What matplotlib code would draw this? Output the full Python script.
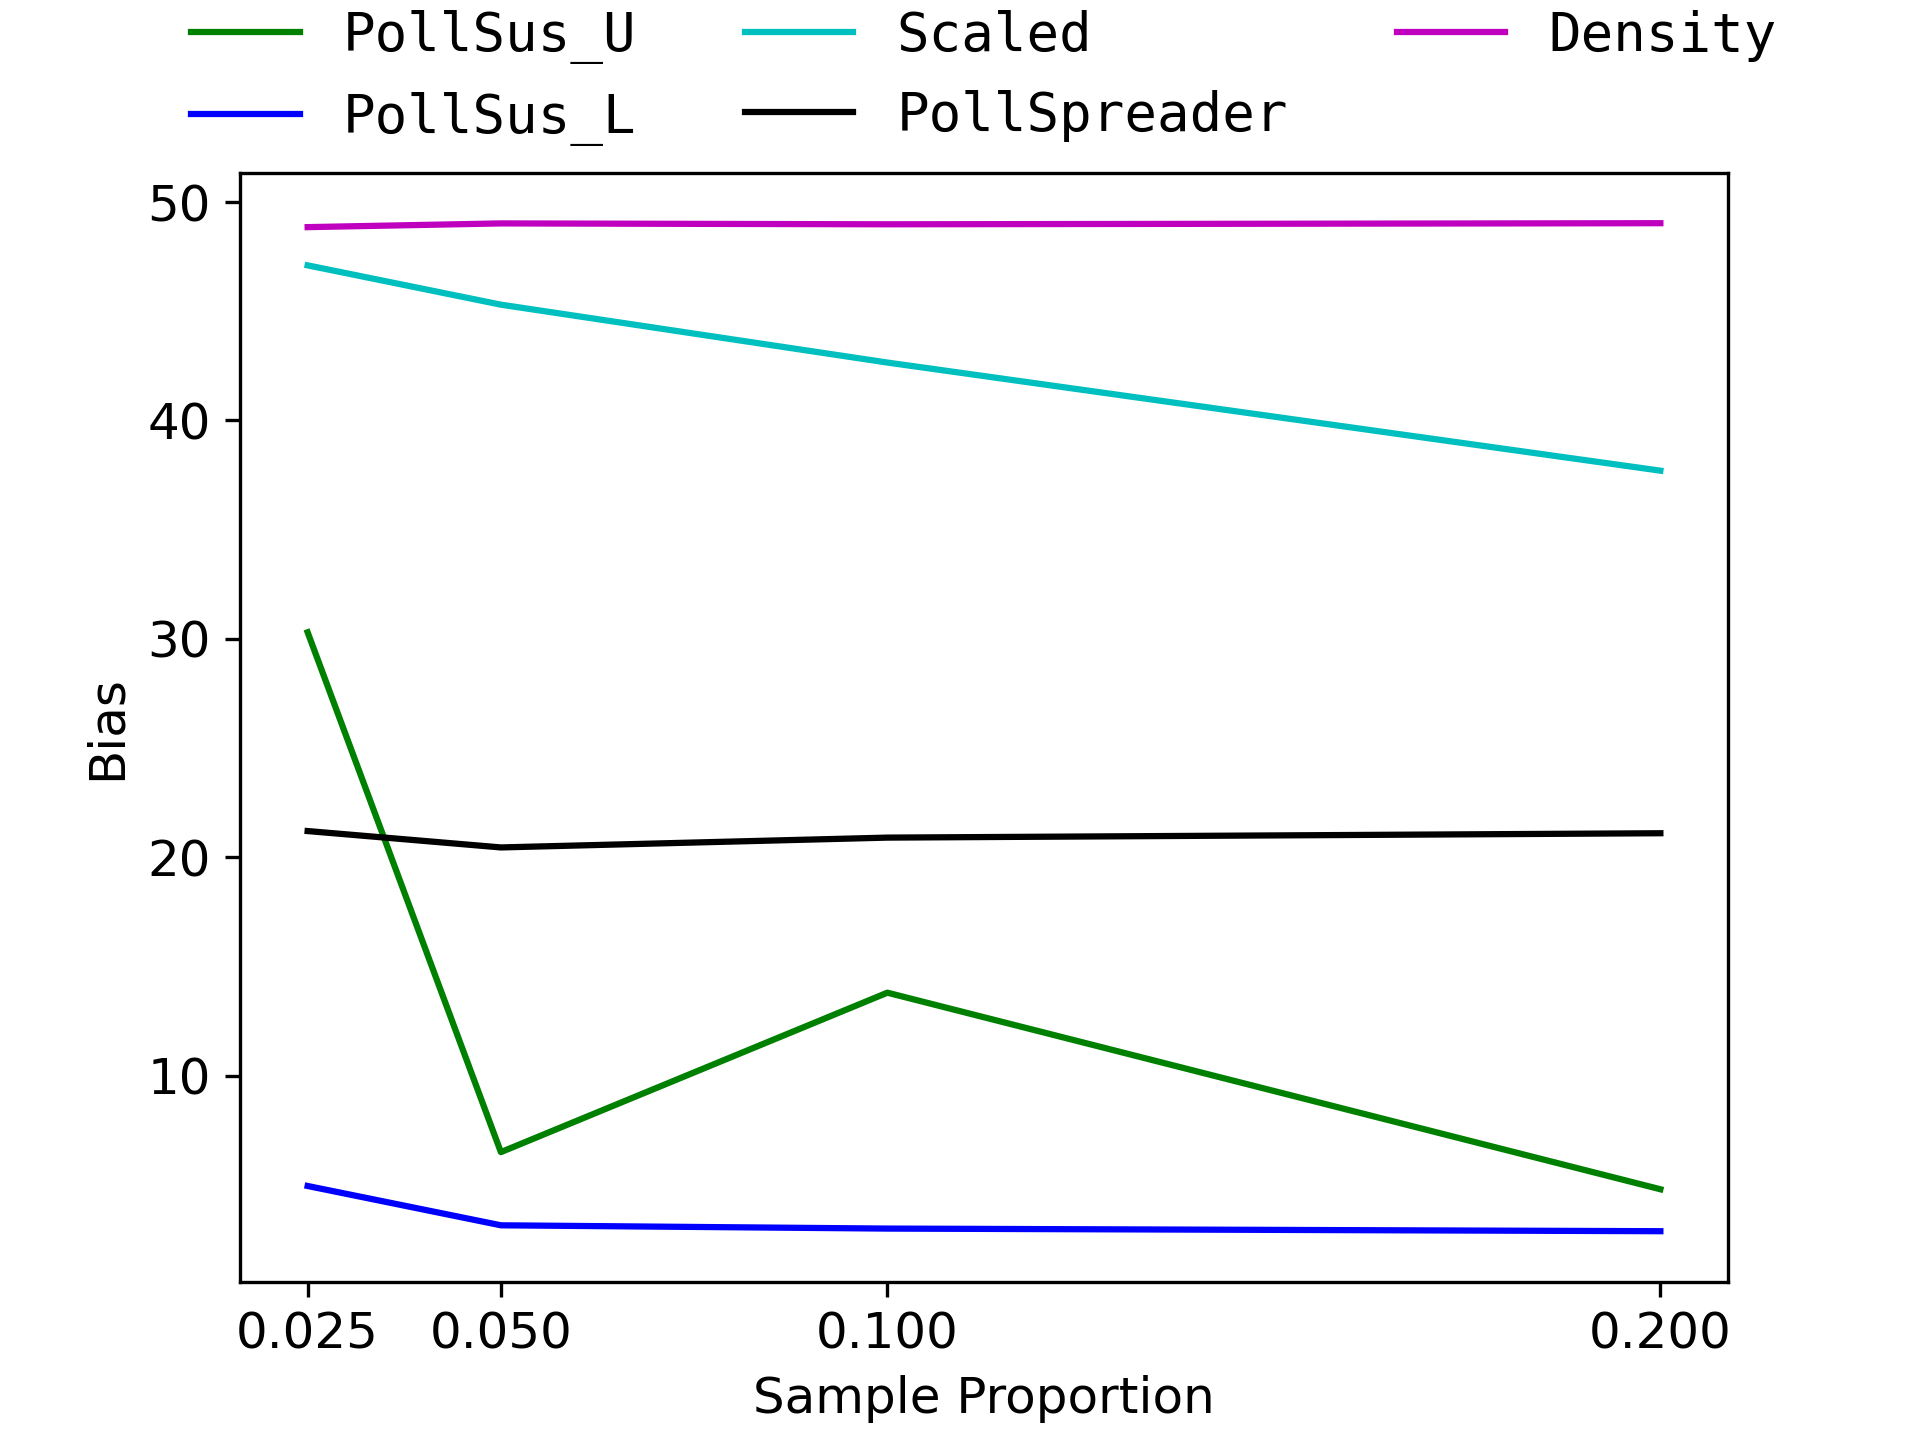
import matplotlib
matplotlib.use("Agg")
import matplotlib.pyplot as plt

# sample proportions on the x axis
proportions = [0.025, 0.05, 0.1, 0.2]

# bias per method
pollsus_u = [30.3, 6.5, 13.8, 4.8]
pollsus_l = [4.95, 3.15, 3.0, 2.88]
scaled = [47.1, 45.3, 42.65, 37.7]
pollspreader = [21.2, 20.45, 20.9, 21.1]
density = [48.85, 49.02, 48.98, 49.03]

plt.rcParams['font.size'] = 12

fig, ax = plt.subplots(figsize=(6.4, 4.8), dpi=300)

ax.plot(proportions, pollsus_u, 'g', label='PollSus_U')
ax.plot(proportions, pollsus_l, 'b', label='PollSus_L')
ax.plot(proportions, scaled, 'c', label='Scaled')
ax.plot(proportions, pollspreader, 'k', label='PollSpreader')
ax.plot(proportions, density, 'm', label='Density')

ax.set_xticks(proportions)
ax.set_xticklabels(['0.025', '0.050', '0.100', '0.200'])
ax.set_xlabel('Sample Proportion')
ax.set_ylabel('Bias')

ax.legend(loc='lower center', bbox_to_anchor=(0.5, 0.98), ncol=3, frameon=False,
          labelspacing=0.52, prop={'family': 'DejaVu Sans Mono', 'size': 13})

fig.savefig('out.png', dpi=300)
